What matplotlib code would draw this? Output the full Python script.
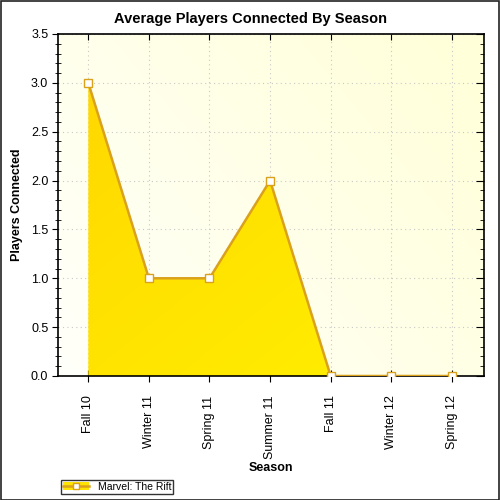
import matplotlib

matplotlib.use("Agg")
import matplotlib.pyplot as plt
import numpy as np
from matplotlib.colors import LinearSegmentedColormap
from matplotlib.lines import Line2D
from matplotlib.patches import Rectangle
from matplotlib.ticker import MultipleLocator, FormatStrFormatter

seasons = ["Fall 10", "Winter 11", "Spring 11", "Summer 11", "Fall 11", "Winter 12", "Spring 12"]
players = [3.0, 1.0, 1.0, 2.0, 0.0, 0.0, 0.0]
series_name = "Marvel: The Rift"

plt.rcParams["font.family"] = ["Liberation Sans", "DejaVu Sans"]

fig = plt.figure(figsize=(5, 5), dpi=100)
fig.patches.append(Rectangle((0.001, 0.001), 0.997, 0.997, transform=fig.transFigure,
                             fill=False, edgecolor="#222222", linewidth=1.2))
ax = fig.add_axes([0.116, 0.248, 0.852, 0.684])

x = np.arange(len(seasons))
ax.set_xlim(-0.5, 6.53)
ax.set_ylim(0, 3.5)

# plot area background gradient
bg_cmap = LinearSegmentedColormap.from_list("bg", ["#fffffa", "#ffffd8"])
gx, gy = np.meshgrid(np.linspace(0, 1, 200), np.linspace(0, 1, 200))
ax.imshow(gx * 0.6 + gy * 0.4, extent=[-0.5, 6.53, 0, 3.5], origin="lower",
          cmap=bg_cmap, aspect="auto", zorder=0)

ax.grid(True, linestyle=(0, (1, 3)), color="#c8c8c8", linewidth=0.8, zorder=1)

# area with gradient fill
poly = ax.fill_between(x, players, 0, color="none", zorder=2)
fill_cmap = LinearSegmentedColormap.from_list("fill", ["#ffd800", "#fff000"])
img = ax.imshow(gx * 0.5 + (1 - gy) * 0.5, extent=[0, 6, 0, 3.0], origin="lower",
                cmap=fill_cmap, aspect="auto", zorder=2)
img.set_clip_path(poly.get_paths()[0], transform=ax.transData)
ax.plot(x, players, color="#d9a11c", linewidth=1.8, marker="s", markersize=6,
        markerfacecolor="white", markeredgecolor="#d9a11c", markeredgewidth=1, zorder=3)

ax.set_xticks(x)
ax.set_xticklabels(seasons, rotation=90, fontsize=9)
ax.yaxis.set_major_locator(MultipleLocator(0.5))
ax.yaxis.set_minor_locator(MultipleLocator(0.1))
ax.yaxis.set_major_formatter(FormatStrFormatter("%.1f"))
ax.tick_params(axis="y", which="major", direction="out", length=4, labelsize=9, pad=3, right=True)
ax.tick_params(axis="y", which="minor", direction="inout", length=5, right=True)
ax.tick_params(axis="x", direction="inout", length=8, pad=10, top=True)
for side in ["left", "bottom", "top", "right"]:
    ax.spines[side].set_linewidth(1.2)
# ticks on the right and top axis point inward
for t in ax.yaxis.get_major_ticks():
    t.tick2line.set_marker(matplotlib.lines.TICKLEFT)
    t.tick2line.set_markersize(6)
for t in ax.yaxis.get_minor_ticks():
    t.tick2line.set_marker(matplotlib.lines.TICKLEFT)
    t.tick2line.set_markersize(3)
for t in ax.xaxis.get_major_ticks():
    t.tick2line.set_marker(matplotlib.lines.TICKDOWN)
    t.tick2line.set_markersize(4)

fig.suptitle("Average Players Connected By Season", fontsize=10.5, fontweight="bold", x=0.5, y=0.977)
ax.set_xlabel("Season", fontsize=9, fontweight="bold", labelpad=2)
ax.set_ylabel("Players Connected", fontsize=9, fontweight="bold", labelpad=6)

handle = (Rectangle((0, 0), 1, 1, facecolor="#ffe400", edgecolor="none"),
          Line2D([], [], color="#d9a11c", linewidth=1.8, marker="s", markersize=5,
                 markerfacecolor="white", markeredgecolor="#d9a11c"))
leg = fig.legend([handle], [series_name], loc="lower left", bbox_to_anchor=(0.112, 0.002),
                 fontsize=7.5, frameon=True, fancybox=False, handlelength=2.5, borderpad=0.2,
                 handletextpad=0.8)
leg.get_frame().set_edgecolor("black")
leg.get_frame().set_linewidth(1)

fig.savefig("out.png", dpi=100)
